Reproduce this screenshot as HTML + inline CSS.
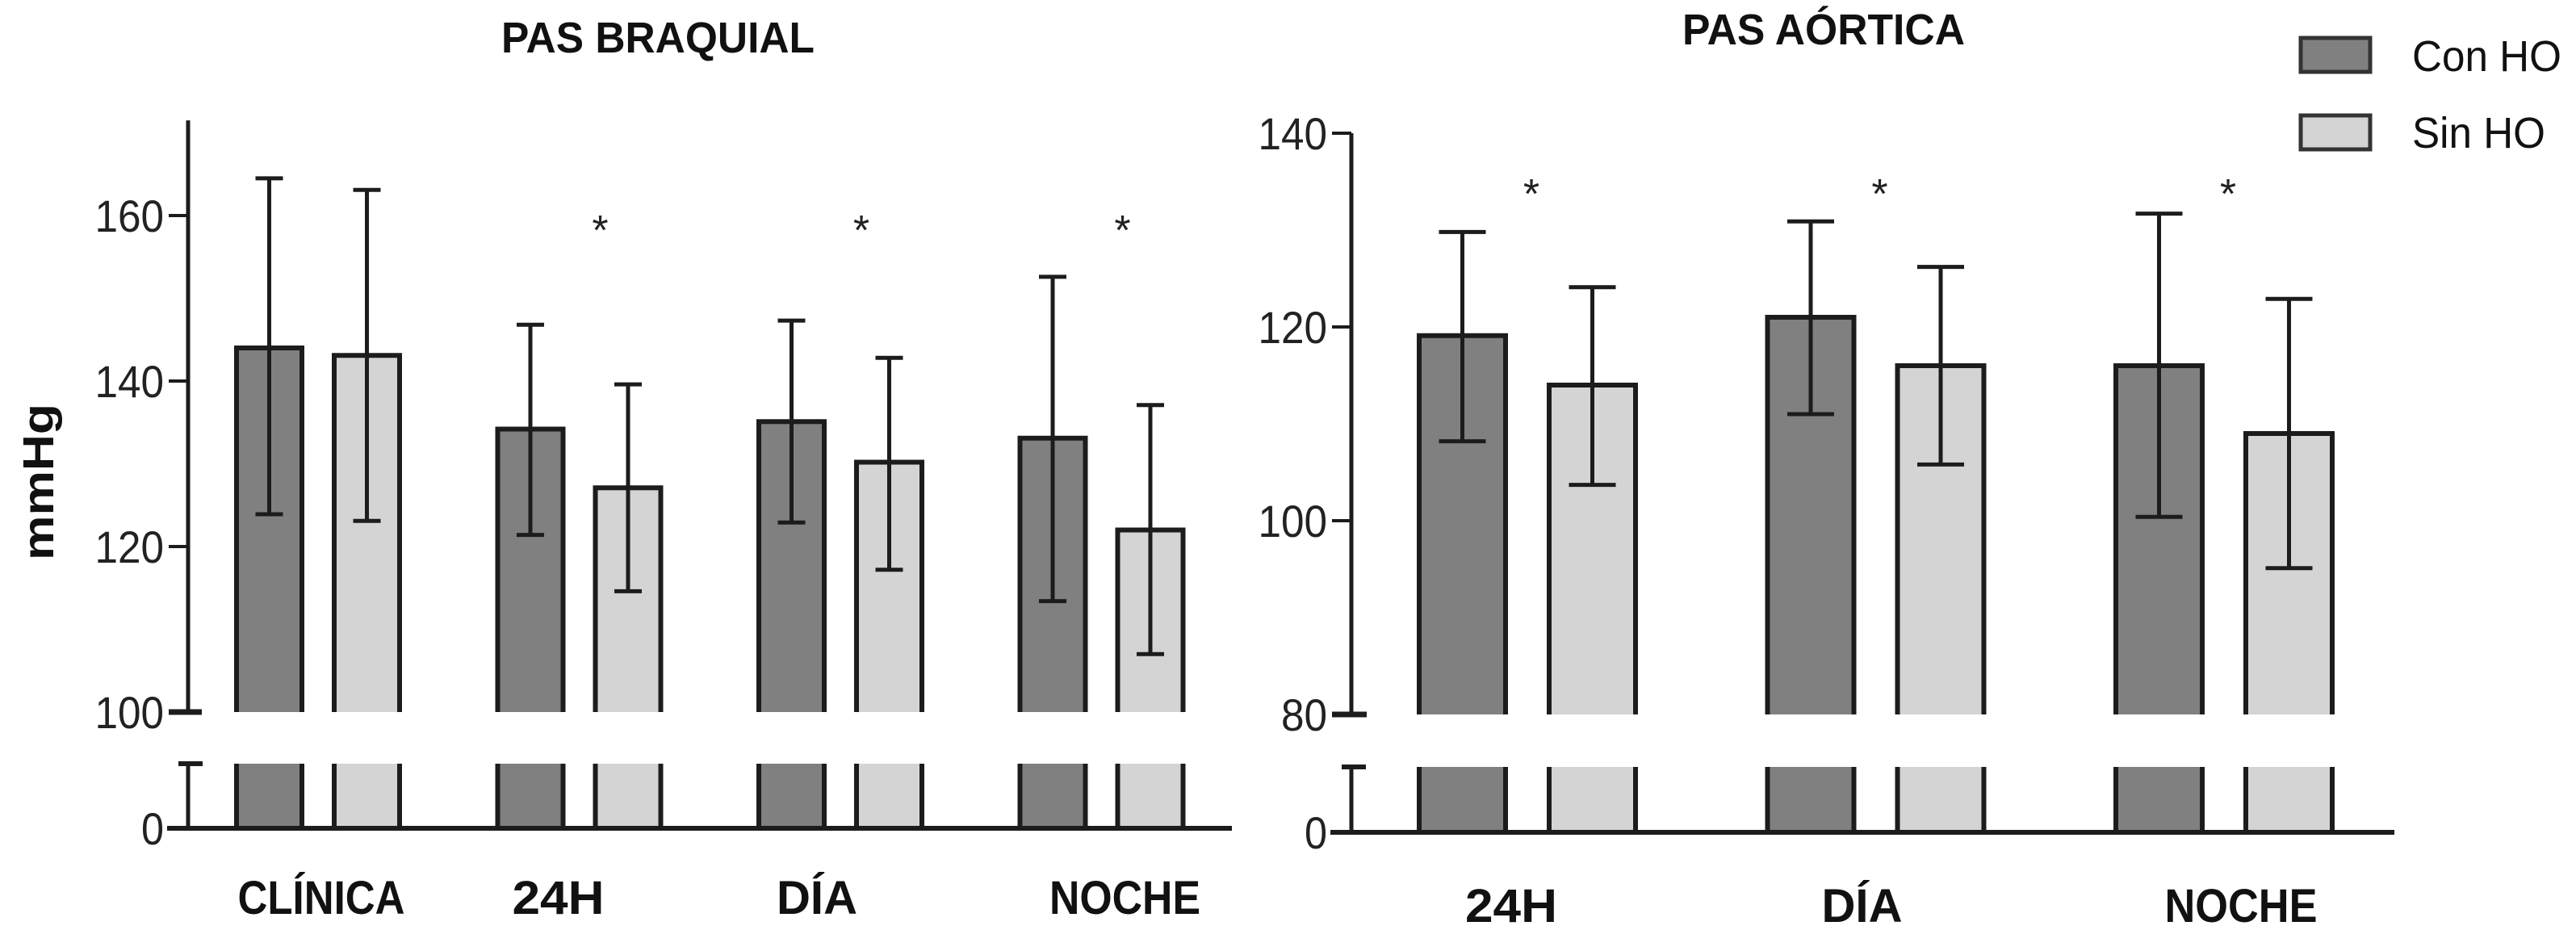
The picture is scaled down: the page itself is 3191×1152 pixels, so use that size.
<!DOCTYPE html>
<html><head><meta charset="utf-8"><style>
html,body{margin:0;padding:0;background:#fff}
svg{display:block}
text{font-family:"Liberation Sans",sans-serif}
</style></head><body>
<svg id="chart" width="3191" height="1152" viewBox="0 0 3191 1152" xmlns="http://www.w3.org/2000/svg">
<rect width="3191" height="1152" fill="#fff"/>
</svg>
<script>
// Left chart data (PAS BRAQUIAL)
const leftCategories = ["CLÍNICA","24H","DÍA","NOCHE"];
const leftCon = [144, 134.2, 135.1, 133.1];
const leftConLow = [123.9, 121.4, 122.9, 113.4];
const leftConHigh = [164.5, 146.8, 147.3, 152.6];
const leftSin = [143.1, 127.1, 130.2, 122.0];
const leftSinLow = [123.1, 114.6, 117.2, 107.0];
const leftSinHigh = [163.1, 139.6, 142.8, 137.1];
const leftSig = [false, true, true, true];
const leftTicks = [100, 120, 140, 160];
// Right chart data (PAS AÓRTICA)
const rightCategories = ["24H","DÍA","NOCHE"];
const rightCon = [119.1, 121.0, 116.0];
const rightConLow = [108.2, 111.0, 100.4];
const rightConHigh = [129.8, 130.9, 131.7];
const rightSin = [114.0, 116.0, 109.0];
const rightSinLow = [103.7, 105.8, 95.1];
const rightSinHigh = [124.1, 126.2, 122.9];
const rightSig = [true, true, true];
const rightTicks = [80, 100, 120, 140];

const NS = "http://www.w3.org/2000/svg";
const svg = document.getElementById('chart');
function mk(tag, attrs, parent) {
  const e = document.createElementNS(NS, tag);
  for (const k in attrs) e.setAttribute(k, attrs[k]);
  (parent || svg).appendChild(e);
  return e;
}
const STROKE = "#1c1c1c";

function drawChart(cfg) {
  const g = mk('g', {});
  
  
  const y = v => cfg.y0 - (v - cfg.vmin) / (cfg.vmax - cfg.vmin) * (cfg.y0 - cfg.y1);
  const t = mk('text', {x: cfg.titleX, y: cfg.titleY, 'text-anchor': 'middle', 'font-size': 54, 'font-weight': 'bold', fill: '#111', textLength: cfg.titleW, lengthAdjust: 'spacingAndGlyphs'}, g);
  t.textContent = cfg.title;
  
  
  const ax = mk('line', {x1: cfg.axX, y1: y(cfg.axTop), x2: cfg.axX, y2: y(cfg.vmin), stroke: STROKE, 'stroke-width': 5}, g);
  
  
  cfg.ticks.forEach((v, i) => {
    const isMin = v === cfg.vmin;
    const tk = mk('line', {x1: cfg.axX - 24, y1: y(v), x2: cfg.axX + (isMin ? cfg.minTickExt : 0), y2: y(v), stroke: STROKE, 'stroke-width': isMin ? 7 : 4}, g);
    
    
    const lb = mk('text', {x: cfg.axX - 30, y: y(v) + 20, 'text-anchor': 'end', 'font-size': 56, fill: '#222', textLength: String(v).length * 28.5, lengthAdjust: 'spacingAndGlyphs'}, g);
    lb.textContent = v;
    
    
  });
  const la = mk('line', {x1: cfg.axX, y1: cfg.lowTop, x2: cfg.axX, y2: cfg.base, stroke: STROKE, 'stroke-width': 5}, g);
  
  
  const lt = mk('line', {x1: cfg.axX - 12, y1: cfg.lowTop, x2: cfg.axX + 18, y2: cfg.lowTop, stroke: STROKE, 'stroke-width': 6}, g);
  
  
  const zl = mk('text', {x: cfg.axX - 30, y: cfg.base + 20, 'text-anchor': 'end', 'font-size': 56, fill: '#222', textLength: 28, lengthAdjust: 'spacingAndGlyphs'}, g);
  zl.textContent = '0';
  
  
  cfg.cats.forEach((c, i) => {
    const gx = cfg.g0 + i * cfg.gStep;
    const series = [
      {v: cfg.con[i], lo: cfg.conLo[i], hi: cfg.conHi[i], x: gx, fill: '#808080', n: 'con-ho'},
      {v: cfg.sin[i], lo: cfg.sinLo[i], hi: cfg.sinHi[i], x: gx + cfg.bw + cfg.gap, fill: '#d4d4d4', n: 'sin-ho'}
    ];
    series.forEach(s => {
      const top = y(s.v), bot = y(cfg.vmin);
      const r = mk('path', {d: `M${s.x},${bot} L${s.x},${top} L${s.x + cfg.bw},${top} L${s.x + cfg.bw},${bot}`, fill: s.fill, stroke: STROKE, 'stroke-width': 6}, g);
      
      
      const rf = mk('rect', {x: s.x, y: cfg.lowTop, width: cfg.bw, height: cfg.base - cfg.lowTop, fill: s.fill}, g);
      
      
      const r2 = mk('path', {d: `M${s.x},${cfg.base} L${s.x},${cfg.lowTop} M${s.x + cfg.bw},${cfg.lowTop} L${s.x + cfg.bw},${cfg.base}`, stroke: STROKE, 'stroke-width': 6, fill: 'none'}, g);
      
      
      const cx = s.x + cfg.bw / 2;
      const eb = mk('path', {d: `M${cx},${y(s.lo)} L${cx},${y(s.hi)} M${cx - cfg.cap},${y(s.hi)} L${cx + cfg.cap},${y(s.hi)} M${cx - cfg.cap},${y(s.lo)} L${cx + cfg.cap},${y(s.lo)}`, stroke: STROKE, 'stroke-width': 5, fill: 'none'}, g);
      
      
    });
    if (cfg.sig[i]) {
      const st = mk('text', {x: gx + cfg.bw + cfg.gap * 0.5 + cfg.starOff, y: cfg.starY, 'text-anchor': 'middle', 'font-size': 52, fill: '#222'}, g);
      st.textContent = '*';
      
      
    }
    const cl = mk('text', {x: gx + cfg.bw + cfg.gap / 2 + cfg.labOff[i], y: cfg.labY, 'text-anchor': 'middle', 'font-size': 58, 'font-weight': 'bold', fill: '#111', textLength: cfg.labW[i], lengthAdjust: 'spacingAndGlyphs'}, g);
    cl.textContent = c;
    
    
  });
  const bl = mk('line', {x1: cfg.axX - 26, y1: cfg.base, x2: cfg.baseEnd, y2: cfg.base, stroke: STROKE, 'stroke-width': 6}, g);
  
  
}

drawChart({name: 'pas-braquial-chart', title: 'PAS BRAQUIAL', titleX: 815, titleY: 65, titleW: 388,
  cats: leftCategories, con: leftCon, conLo: leftConLow, conHi: leftConHigh, sin: leftSin, sinLo: leftSinLow, sinHi: leftSinHigh, sig: leftSig, ticks: leftTicks,
  vmin: 100, vmax: 160, y0: 882, y1: 267, axTop: 171.5, axX: 233, minTickExt: 17, lowTop: 946, base: 1026, baseEnd: 1526,
  g0: 293, gStep: 323.5, bw: 81, gap: 40, cap: 17, starOff: 26, starY: 303, labOff: [4, -26, -29, 29], labW: [207, 114, 100, 187], labY: 1132});
drawChart({name: 'pas-aortica-chart', title: 'PAS AÓRTICA', titleX: 2259, titleY: 55, titleW: 350,
  cats: rightCategories, con: rightCon, conLo: rightConLow, conHi: rightConHigh, sin: rightSin, sinLo: rightSinLow, sinHi: rightSinHigh, sig: rightSig, ticks: rightTicks,
  vmin: 80, vmax: 140, y0: 885, y1: 165, axTop: 140, axX: 1674, minTickExt: 19, lowTop: 950, base: 1031, baseEnd: 2966,
  g0: 1758, gStep: 431.5, bw: 107, gap: 54, cap: 29, starOff: 5, starY: 258, labOff: [-20, -17, 21], labW: [114, 100, 189], labY: 1142});

const cover = mk('rect', {x: 1530, y: 120, width: 30, height: 800, fill: '#fff'});



const yt = mk('text', {x: 0, y: 0, 'text-anchor': 'middle', 'font-size': 54, 'font-weight': 'bold', fill: '#111', transform: 'translate(66,597) rotate(-90)', textLength: 194, lengthAdjust: 'spacingAndGlyphs'});
yt.textContent = 'mmHg';



const lg = mk('g', {});


[['Con HO', '#808080', 47, 88], ['Sin HO', '#d4d4d4', 143, 183]].forEach(([t, f, by, ty]) => {
  const b = mk('rect', {x: 2850, y: by, width: 86, height: 42, fill: f, stroke: '#333', 'stroke-width': 5}, lg);
  
  
  const tx = mk('text', {x: 2988, y: ty, 'font-size': 54, fill: '#111', textLength: t === 'Con HO' ? 185 : 165, lengthAdjust: 'spacingAndGlyphs'}, lg);
  tx.textContent = t;
  
  
});
</script>
</body></html>
